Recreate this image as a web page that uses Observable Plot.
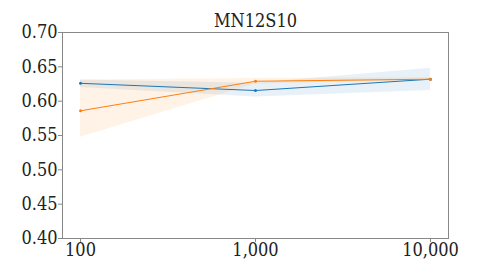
<!DOCTYPE html>
<html><head><meta charset="utf-8">
<script src="https://cdn.jsdelivr.net/npm/d3@7"></script>
<script src="https://cdn.jsdelivr.net/npm/@observablehq/plot@0.6"></script>
<style>body{margin:0;background:#fff}</style>
</head><body><div id="chart"></div>
<script>
const title = "MN12S10";
const sizes = [100, 1000, 10000];
const blueMean = [0.626, 0.6155, 0.632];
const blueLow  = [0.620, 0.606, 0.6155];
const blueHigh = [0.631, 0.626, 0.648];
const orangeMean = [0.586, 0.629, 0.632];
const orangeLow  = [0.5475, 0.625, 0.630];
const orangeHigh = [0.631, 0.633, 0.634];
const yTicks = [0.40, 0.45, 0.50, 0.55, 0.60, 0.65, 0.70];
const xTicks = [100, 1000, 10000];

const series = [
  {name: "A", color: "#1f77b4", mean: blueMean, low: blueLow, high: blueHigh},
  {name: "B", color: "#ff7f0e", mean: orangeMean, low: orangeLow, high: orangeHigh}
];
const rows = series.flatMap(s => sizes.map((x, i) => ({series: s.name, color: s.color, x, y: s.mean[i], lo: s.low[i], hi: s.high[i]})));
const ff = "DejaVu Serif Condensed";

const chart = Plot.plot({
  width: 498, height: 268,
  marginLeft: 62, marginRight: 50, marginTop: 32, marginBottom: 30,
  style: {fontFamily: ff, fontSize: "18px", color: "#222", background: "white"},
  x: {type: "log", domain: [Math.pow(10, 1.897), Math.pow(10, 4.103)], label: null},
  y: {domain: [0.40, 0.70], label: null},
  marks: [
    Plot.areaY(rows, {x: "x", y1: "lo", y2: "hi", z: "series", fill: "color", fillOpacity: 0.1}),
    Plot.line(rows, {x: "x", y: "y", z: "series", stroke: "color", strokeWidth: 1}),
    Plot.dot(rows, {x: "x", y: "y", fill: "color", r: 1.5}),
    Plot.frame({stroke: "#888", strokeWidth: 1, strokeOpacity: 1}),
    Plot.axisY({ticks: yTicks, tickFormat: d3.format(".2f"), tickSize: 4, stroke: "#888", fontSize: 18, fontFamily: ff, tickPadding: 1}),
    Plot.axisX({ticks: xTicks, tickFormat: d3.format(","), tickSize: 4, stroke: "#888", fontSize: 18, fontFamily: ff, tickPadding: 1}),
    Plot.text([title], {frameAnchor: "top", dy: -18, fontSize: 18, fontFamily: ff, fill: "#222"})
  ]
});
document.getElementById("chart").appendChild(chart);
</script></body></html>
